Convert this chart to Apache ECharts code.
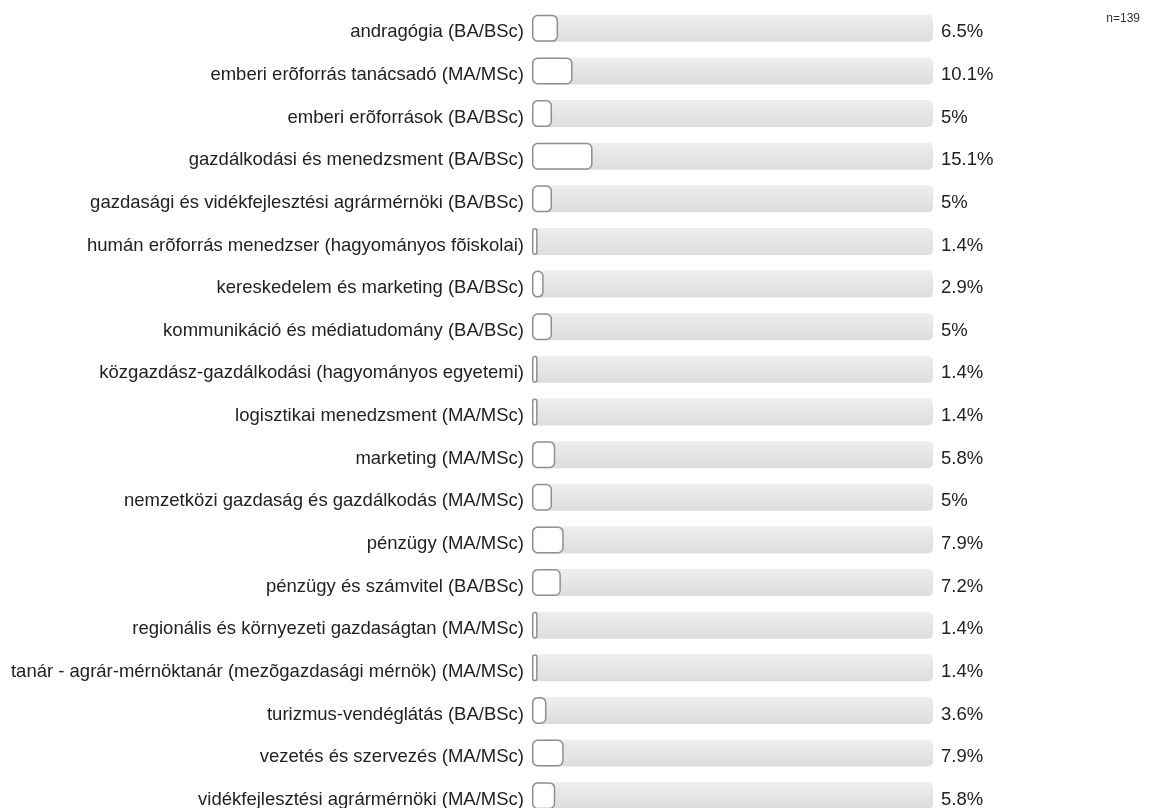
<!DOCTYPE html>
<html>
<head>
<meta charset="utf-8">
<script src="https://cdn.jsdelivr.net/npm/echarts@6/dist/echarts.min.js"></script>
<style>html,body{margin:0;padding:0;background:#fff}#c{width:1154px;height:808px}</style>
</head>
<body>
<div id="c"></div>
<script>
var categories = [
  "andragógia (BA/BSc)",
  "emberi erõforrás tanácsadó (MA/MSc)",
  "emberi erõforrások (BA/BSc)",
  "gazdálkodási és menedzsment (BA/BSc)",
  "gazdasági és vidékfejlesztési agrármérnöki (BA/BSc)",
  "humán erõforrás menedzser (hagyományos fõiskolai)",
  "kereskedelem és marketing (BA/BSc)",
  "kommunikáció és médiatudomány (BA/BSc)",
  "közgazdász-gazdálkodási (hagyományos egyetemi)",
  "logisztikai menedzsment (MA/MSc)",
  "marketing (MA/MSc)",
  "nemzetközi gazdaság és gazdálkodás (MA/MSc)",
  "pénzügy (MA/MSc)",
  "pénzügy és számvitel (BA/BSc)",
  "regionális és környezeti gazdaságtan (MA/MSc)",
  "tanár - agrár-mérnöktanár (mezõgazdasági mérnök) (MA/MSc)",
  "turizmus-vendéglátás (BA/BSc)",
  "vezetés és szervezés (MA/MSc)",
  "vidékfejlesztési agrármérnöki (MA/MSc)"
];
var values = [6.5, 10.1, 5, 15.1, 5, 1.4, 2.9, 5, 1.4, 1.4, 5.8, 5, 7.9, 7.2, 1.4, 1.4, 3.6, 7.9, 5.8];
var valueLabels = ["6.5%", "10.1%", "5%", "15.1%", "5%", "1.4%", "2.9%", "5%", "1.4%", "1.4%", "5.8%", "5%", "7.9%", "7.2%", "1.4%", "1.4%", "3.6%", "7.9%", "5.8%"];
var trackMax = 100;
var sampleNote = "n=139";

var chart = echarts.init(document.getElementById('c'), null, {renderer: 'canvas'});
var font = '"Liberation Sans", Arial, sans-serif';
var richText = {t: {fontFamily: font, fontSize: 18.5, color: '#222222', padding: [8, 0, 0, 0]}};
chart.setOption({
  animation: false,
  backgroundColor: '#ffffff',
  graphic: [{
    type: 'text', right: 14, top: 13,
    style: {text: sampleNote, font: '12px ' + font, fill: '#333'}
  }],
  grid: {left: 532, right: 221, top: 7, height: 810, containLabel: false, outerBoundsMode: 'none'},
  xAxis: {type: 'value', min: 0, max: trackMax, show: false},
  yAxis: {
    type: 'category', data: categories, inverse: true,
    axisLine: {show: false}, axisTick: {show: false}, splitLine: {show: false},
    axisLabel: {
      margin: 8, fontFamily: font, fontSize: 18.5,
      formatter: function(v){ return '{t|' + v + '}'; },
      rich: richText
    }
  },
  series: [
    {
      type: 'bar', barWidth: 27, barGap: '-100%', silent: true,
      data: categories.map(function(){ return trackMax; }),
      itemStyle: {
        borderRadius: 5,
        color: {type: 'linear', x: 0, y: 0, x2: 0, y2: 1,
          colorStops: [{offset: 0, color: '#eeeeee'}, {offset: 1, color: '#dddddd'}]}
      },
      label: {
        show: true, position: 'right', distance: 8,
        fontFamily: font, fontSize: 18.5,
        formatter: function(p){ return '{t|' + valueLabels[p.dataIndex] + '}'; },
        rich: richText
      }
    },
    {
      type: 'bar', barWidth: 27, barGap: '-100%', silent: true,
      data: values,
      itemStyle: {color: '#ffffff', borderColor: '#8f8f8f', borderWidth: 1.5, borderRadius: 5}
    }
  ]
});
</script>
</body>
</html>
